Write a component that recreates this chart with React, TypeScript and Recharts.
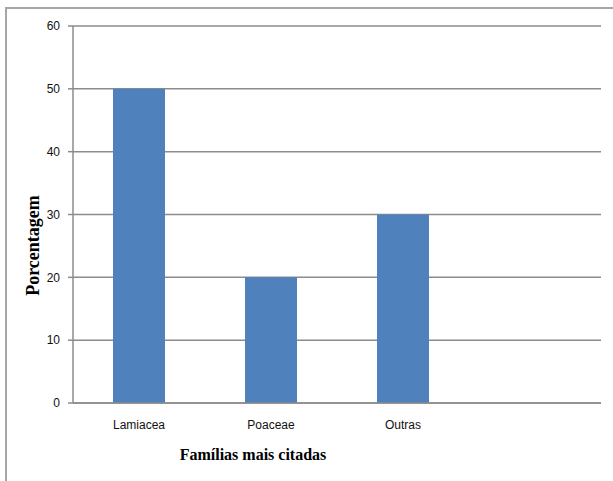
import { Bar, BarChart, CartesianGrid, XAxis, YAxis } from "recharts";

const categories = ["Lamiacea", "Poaceae", "Outras", ""];
const percentages = [50, 20, 30, null];
const yTicks = [0, 10, 20, 30, 40, 50, 60];

const data = categories.map((name, i) => ({ name, value: percentages[i] }));

const TICK_FONT = "'Liberation Sans Narrow', 'Arial Narrow', 'Liberation Sans', sans-serif";
const TITLE_FONT = "'Liberation Serif', 'Times New Roman', serif";

function XTitle({ viewBox }: any) {
  const { x, y } = viewBox;
  return (
    <text x={x + 180} y={y + 57} textAnchor="middle" fontFamily={TITLE_FONT} fontWeight="bold" fontSize={16} fill="#000">
      Famílias mais citadas
    </text>
  );
}

function YTitle({ viewBox }: any) {
  const { y, height } = viewBox;
  const cy = y + height / 2 + 31;
  return (
    <text
      x={39}
      y={cy}
      transform={`rotate(-90, 39, ${cy})`}
      textAnchor="middle"
      fontFamily={TITLE_FONT}
      fontWeight="bold"
      fontSize={18}
      fill="#000"
    >
      Porcentagem
    </text>
  );
}

export default function App() {
  return (
    <div style={{ position: "fixed", left: 0, top: 0, width: 613, height: 481, overflow: "hidden", background: "#fff" }}>
      <div
        style={{
          position: "absolute",
          left: 5,
          top: 7,
          width: 700,
          height: 600,
          borderLeft: "2px solid #a6a6a6",
          borderTop: "2px solid #a6a6a6",
        }}
      />
      <div style={{ position: "absolute", left: 0, top: 0 }}>
        <BarChart width={613} height={481} data={data} margin={{ top: 26, right: 12, left: 0, bottom: 0 }}>
          <CartesianGrid vertical={false} stroke="#8c8c8c" strokeWidth={1.5} />
          <XAxis
            dataKey="name"
            height={78}
            axisLine={{ stroke: "#8c8c8c", strokeWidth: 1.5 }}
            tickLine={false}
            tickSize={0}
            tickMargin={17}
            tick={{ fill: "#111", fontSize: 12, fontFamily: TICK_FONT }}
            label={<XTitle />}
          />
          <YAxis
            width={73}
            domain={[0, 60]}
            ticks={yTicks}
            interval={0}
            axisLine={{ stroke: "#8c8c8c", strokeWidth: 1.5 }}
            tickLine={{ stroke: "#8c8c8c", strokeWidth: 1.5 }}
            tickSize={5}
            tickMargin={8}
            tick={{ fill: "#111", fontSize: 12, fontFamily: TICK_FONT }}
            label={<YTitle />}
          />
          <Bar dataKey="value" fill="#4f81bd" barSize={52} isAnimationActive={false} />
        </BarChart>
      </div>
    </div>
  );
}
